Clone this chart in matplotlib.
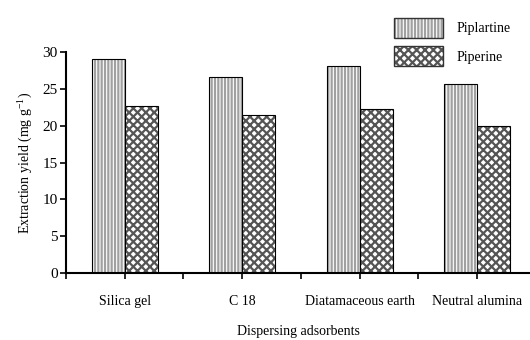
import matplotlib.pyplot as plt
import matplotlib.patches as mpatches
import numpy as np

plt.rcParams['font.family'] = ['Liberation Serif', 'DejaVu Serif']
plt.rcParams['mathtext.fontset'] = 'custom'
plt.rcParams['mathtext.rm'] = 'Liberation Serif'
plt.rcParams['hatch.linewidth'] = 1.6

categories = ['Silica gel', 'C 18', 'Diatamaceous earth', 'Neutral alumina']
piplartine = [29.0, 26.6, 28.1, 25.6]
piperine = [22.7, 21.5, 22.3, 20.0]
series_names = ['Piplartine', 'Piperine']

x = np.arange(len(categories))
w = 0.28

fig = plt.figure(figsize=(5.3, 3.4), dpi=100)
ax = fig.add_axes([0.1245, 0.197, 0.8755, 0.65])

# hatched fill first, then black outline on top
ax.bar(x - w / 2, piplartine, w, color='white', edgecolor='#a0a0a0', hatch='|||||', linewidth=0)
ax.bar(x - w / 2, piplartine, w, fill=False, edgecolor='black', linewidth=0.8)
ax.bar(x + w / 2, piperine, w, color='white', edgecolor='#555555', hatch='xxxx', linewidth=0)
ax.bar(x + w / 2, piperine, w, fill=False, edgecolor='black', linewidth=0.8)

ax.set_xlim(-0.5, 3.45)
ax.set_ylim(0, 30)
ax.set_yticks(range(0, 31, 5))
ax.set_xticks(x)
ax.set_xticklabels(categories, fontsize=10)
ax.set_xticks(np.arange(-0.5, 3.5, 1.0), minor=True)
ax.tick_params(axis='both', which='both', direction='out', length=4, width=1.2)
ax.tick_params(axis='x', which='major', pad=12, labelsize=10)
ax.tick_params(axis='y', pad=2, labelsize=11)

for s in ['top', 'right']:
    ax.spines[s].set_visible(False)
ax.spines['left'].set_linewidth(1.5)
ax.spines['bottom'].set_linewidth(1.5)

ax.set_ylabel('Extraction yield (mg g$^{-1}$)', fontsize=10, labelpad=6)
ax.set_xlabel('Dispersing adsorbents', fontsize=10, labelpad=12)

handles = [
    (mpatches.Patch(facecolor='white', edgecolor='#a0a0a0', hatch='|||||', linewidth=0),
     mpatches.Patch(fill=False, edgecolor='#333333', linewidth=1.0)),
    (mpatches.Patch(facecolor='white', edgecolor='#555555', hatch='xxxx', linewidth=0),
     mpatches.Patch(fill=False, edgecolor='#333333', linewidth=1.0)),
]
fig.legend(handles, series_names, loc='upper left', bbox_to_anchor=(0.72, 0.985),
           frameon=False, fontsize=10, handlelength=3.5, handleheight=1.9,
           labelspacing=0.55, handletextpad=1.0)

fig.savefig('out.png', dpi=100)
